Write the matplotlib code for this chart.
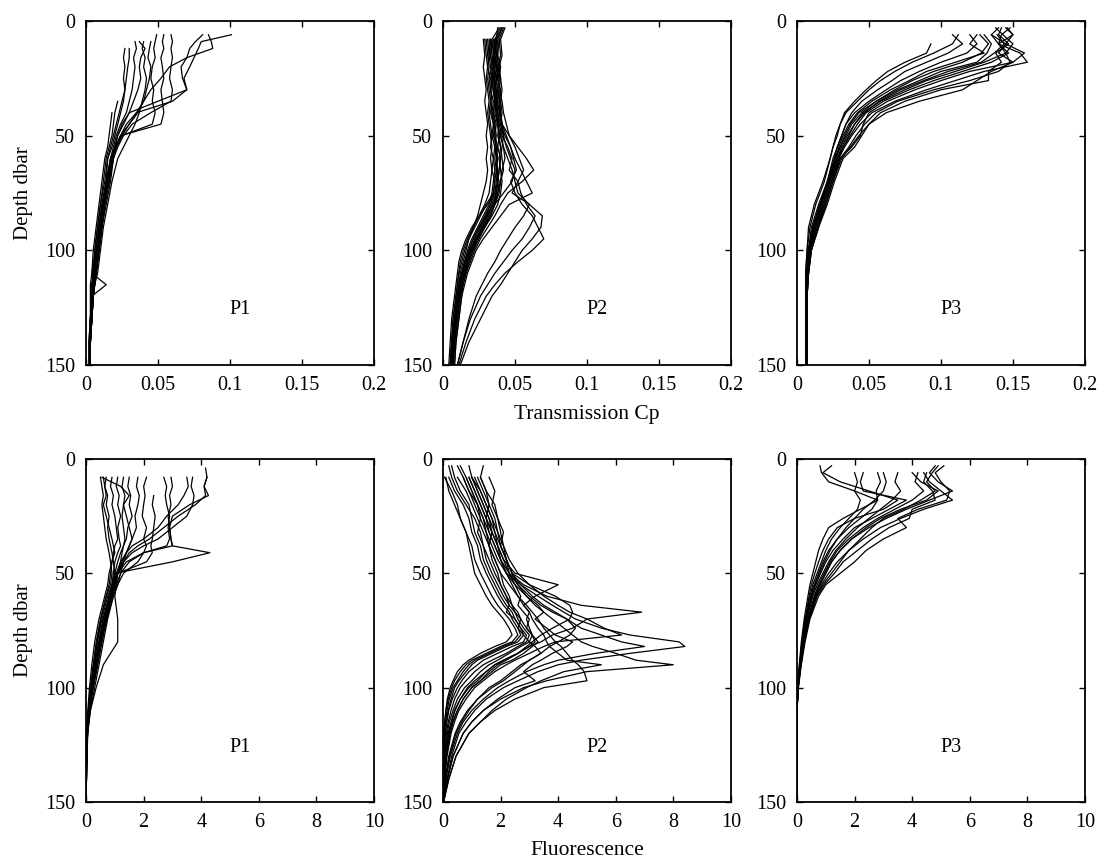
import numpy as np
import matplotlib
matplotlib.use("Agg")
import matplotlib.pyplot as plt

N = np.nan

# ---- transmission Cp, station P1 ----
DEPTH_CP1 = [6, 9, 12, 16, 20, 25, 30, 35, 40, 45, 50, 55, 60, 70, 80, 90, 100, 110, 115, 120, 130, 140, 150]
CP_P1 = [
    [N, N, 0.027, 0.026, 0.027, 0.026, 0.027, 0.026, 0.024, 0.022, 0.020, 0.018, 0.015, 0.013, 0.010, 0.008, 0.006, 0.005, 0.004, 0.004, 0.003, 0.003, 0.003],
    [N, 0.034, 0.035, 0.033, 0.034, 0.033, 0.032, 0.030, 0.028, 0.024, 0.021, 0.019, 0.017, 0.014, 0.011, 0.009, 0.007, 0.006, 0.005, 0.004, 0.003, 0.003, 0.003],
    [N, 0.037, 0.041, 0.038, 0.037, 0.038, 0.036, 0.033, 0.030, 0.026, 0.022, 0.020, 0.017, 0.015, 0.012, 0.010, 0.008, 0.006, 0.005, 0.005, 0.004, 0.003, 0.003],
    [N, 0.045, 0.044, 0.043, 0.045, 0.044, 0.042, 0.040, 0.036, 0.030, 0.024, 0.021, 0.018, 0.016, 0.013, 0.011, 0.009, 0.007, 0.006, 0.005, 0.004, 0.003, 0.003],
    [0.049, 0.048, 0.047, 0.048, 0.046, 0.045, 0.047, 0.046, 0.048, 0.046, 0.025, 0.021, 0.019, 0.017, 0.014, 0.011, 0.009, 0.007, 0.006, 0.005, 0.004, 0.003, 0.003],
    [0.054, 0.053, 0.054, 0.052, 0.053, 0.054, 0.052, 0.053, 0.054, 0.052, 0.024, 0.020, 0.018, 0.015, 0.012, 0.010, 0.008, 0.006, 0.005, 0.005, 0.004, 0.003, 0.003],
    [0.059, 0.060, 0.059, 0.060, 0.059, 0.058, 0.060, 0.059, 0.045, 0.032, 0.026, 0.022, 0.019, 0.016, 0.013, 0.011, 0.009, 0.007, 0.006, 0.005, 0.004, 0.003, 0.003],
    [0.081, 0.076, 0.072, 0.070, 0.066, 0.067, 0.070, 0.060, 0.035, 0.028, 0.024, 0.021, 0.018, 0.015, 0.012, 0.010, 0.008, 0.006, 0.005, 0.005, 0.004, 0.003, 0.003],
    [0.085, 0.087, 0.088, 0.070, 0.058, 0.052, 0.045, 0.040, 0.035, 0.030, 0.025, 0.021, 0.019, 0.016, 0.013, 0.011, 0.009, 0.007, 0.006, 0.005, 0.004, 0.003, 0.003],
    [0.101, 0.080, 0.078, 0.075, 0.072, 0.068, 0.070, 0.050, 0.030, 0.025, 0.022, 0.020, 0.017, 0.014, 0.011, 0.009, 0.007, 0.005, 0.005, 0.004, 0.003, 0.002, 0.002],
    [N, N, 0.030, 0.030, 0.029, 0.028, 0.027, 0.025, 0.023, 0.021, 0.019, 0.017, 0.015, 0.014, 0.012, 0.009, 0.007, 0.004, 0.014, 0.004, 0.003, 0.003, 0.003],
    [N, N, N, N, N, N, N, 0.022, 0.020, 0.019, 0.018, 0.016, 0.014, 0.012, 0.010, 0.008, 0.006, 0.005, 0.004, 0.004, 0.003, 0.003, 0.003],
    [N, N, N, N, N, N, N, N, 0.018, 0.017, 0.016, 0.015, 0.013, 0.011, 0.009, 0.007, 0.005, 0.004, 0.003, 0.003, 0.003, 0.002, 0.002],
    [N, 0.040, 0.039, 0.041, 0.040, 0.042, 0.041, 0.039, 0.037, 0.034, 0.030, 0.026, 0.022, 0.018, 0.015, 0.012, 0.010, 0.008, 0.006, 0.005, 0.004, 0.003, 0.003],
]

# ---- transmission Cp, station P2 ----
DEPTH_CP2 = [3, 8, 15, 20, 25, 30, 35, 40, 45, 50, 55, 60, 65, 70, 75, 80, 85, 90, 95, 100, 105, 110, 115, 120, 130, 140, 150]
CP_P2 = [
    [N, 0.028, 0.029, 0.028, 0.029, 0.030, 0.029, 0.030, 0.031, 0.030, 0.031, 0.030, 0.031, 0.030, 0.028, 0.026, 0.024, 0.021, 0.018, 0.016, 0.014, 0.012, 0.011, 0.010, 0.008, 0.007, 0.006],
    [0.040, 0.036, 0.035, 0.036, 0.034, 0.035, 0.036, 0.035, 0.036, 0.037, 0.036, 0.038, 0.037, 0.036, 0.035, 0.033, 0.030, 0.026, 0.022, 0.019, 0.016, 0.014, 0.012, 0.011, 0.009, 0.007, 0.006],
    [0.043, 0.040, 0.041, 0.039, 0.040, 0.041, 0.040, 0.041, 0.040, 0.042, 0.041, 0.040, 0.039, 0.038, 0.037, 0.034, 0.031, 0.027, 0.023, 0.020, 0.017, 0.015, 0.013, 0.012, 0.010, 0.008, 0.007],
    [N, 0.032, 0.033, 0.034, 0.032, 0.033, 0.034, 0.033, 0.035, 0.034, 0.036, 0.035, 0.036, 0.035, 0.034, 0.032, 0.028, 0.024, 0.020, 0.017, 0.015, 0.013, 0.011, 0.010, 0.008, 0.007, 0.005],
    [0.038, 0.037, 0.038, 0.037, 0.039, 0.038, 0.039, 0.040, 0.041, 0.042, 0.044, 0.047, 0.050, 0.048, 0.042, 0.036, 0.033, 0.029, 0.025, 0.021, 0.018, 0.016, 0.014, 0.012, 0.010, 0.008, 0.007],
    [0.041, 0.038, 0.037, 0.039, 0.038, 0.040, 0.039, 0.040, 0.041, 0.046, 0.052, 0.058, 0.063, 0.055, 0.045, 0.040, 0.036, 0.031, 0.026, 0.022, 0.019, 0.016, 0.014, 0.013, 0.011, 0.009, 0.008],
    [N, 0.035, 0.036, 0.035, 0.037, 0.036, 0.037, 0.038, 0.040, 0.043, 0.047, 0.050, 0.054, 0.058, 0.062, 0.046, 0.040, 0.034, 0.028, 0.023, 0.020, 0.017, 0.015, 0.013, 0.011, 0.009, 0.008],
    [N, 0.033, 0.034, 0.036, 0.035, 0.036, 0.037, 0.036, 0.038, 0.040, 0.042, 0.045, 0.048, 0.050, 0.052, 0.060, 0.069, 0.068, 0.062, 0.055, 0.050, 0.045, 0.040, 0.034, 0.026, 0.018, 0.012],
    [N, 0.036, 0.035, 0.037, 0.036, 0.037, 0.038, 0.039, 0.041, 0.044, 0.047, 0.049, 0.051, 0.047, 0.050, 0.055, 0.062, 0.066, 0.070, 0.062, 0.052, 0.043, 0.036, 0.030, 0.022, 0.016, 0.011],
    [N, 0.034, 0.035, 0.034, 0.036, 0.035, 0.036, 0.037, 0.039, 0.041, 0.045, 0.048, 0.046, 0.052, 0.054, 0.058, 0.064, 0.060, 0.055, 0.048, 0.042, 0.036, 0.031, 0.026, 0.019, 0.014, 0.010],
    [0.042, 0.039, 0.038, 0.040, 0.039, 0.038, 0.040, 0.039, 0.041, 0.040, 0.042, 0.043, 0.041, 0.040, 0.039, 0.036, 0.032, 0.028, 0.024, 0.021, 0.018, 0.015, 0.013, 0.011, 0.009, 0.007, 0.006],
    [N, 0.030, 0.031, 0.032, 0.031, 0.032, 0.033, 0.032, 0.033, 0.034, 0.033, 0.035, 0.034, 0.036, 0.035, 0.030, 0.026, 0.022, 0.018, 0.015, 0.013, 0.011, 0.010, 0.009, 0.007, 0.006, 0.005],
    [N, 0.037, 0.036, 0.038, 0.037, 0.038, 0.037, 0.038, 0.039, 0.038, 0.040, 0.039, 0.040, 0.041, 0.040, 0.038, 0.034, 0.029, 0.024, 0.020, 0.017, 0.015, 0.013, 0.012, 0.010, 0.008, 0.007],
    [N, 0.039, 0.040, 0.038, 0.040, 0.039, 0.041, 0.042, 0.044, 0.046, 0.050, 0.053, 0.056, 0.052, 0.048, 0.060, 0.056, 0.050, 0.045, 0.040, 0.036, 0.031, 0.027, 0.023, 0.018, 0.014, 0.010],
    [0.039, 0.034, 0.033, 0.035, 0.034, 0.035, 0.036, 0.035, 0.037, 0.036, 0.038, 0.037, 0.038, 0.037, 0.036, 0.033, 0.029, 0.025, 0.021, 0.018, 0.016, 0.013, 0.012, 0.010, 0.009, 0.007, 0.006],
    [N, 0.031, 0.032, 0.031, 0.033, 0.034, 0.033, 0.034, 0.035, 0.036, 0.037, 0.036, 0.037, 0.038, 0.036, 0.031, 0.025, 0.020, 0.016, 0.013, 0.011, 0.010, 0.009, 0.008, 0.006, 0.005, 0.004],
    [N, 0.036, 0.037, 0.036, 0.035, 0.037, 0.036, 0.037, 0.038, 0.039, 0.038, 0.040, 0.039, 0.038, 0.037, 0.035, 0.031, 0.027, 0.023, 0.019, 0.016, 0.014, 0.012, 0.011, 0.009, 0.007, 0.006],
    [N, 0.029, 0.030, 0.031, 0.030, 0.031, 0.032, 0.031, 0.032, 0.033, 0.034, 0.033, 0.034, 0.033, 0.032, 0.029, 0.025, 0.021, 0.017, 0.014, 0.012, 0.011, 0.010, 0.009, 0.007, 0.006, 0.005],
    [0.041, 0.037, 0.036, 0.037, 0.038, 0.036, 0.038, 0.037, 0.038, 0.039, 0.040, 0.041, 0.042, 0.040, 0.038, 0.036, 0.033, 0.028, 0.023, 0.019, 0.016, 0.014, 0.012, 0.011, 0.009, 0.008, 0.006],
    [N, 0.033, 0.032, 0.033, 0.034, 0.033, 0.035, 0.034, 0.036, 0.035, 0.037, 0.038, 0.037, 0.039, 0.038, 0.035, 0.030, 0.025, 0.021, 0.018, 0.015, 0.013, 0.011, 0.010, 0.008, 0.006, 0.005],
]

# ---- transmission Cp, station P3 ----
DEPTH_CP3 = [3, 6, 10, 14, 18, 22, 26, 30, 35, 40, 45, 50, 55, 60, 70, 80, 90, 100, 110, 120, 150]
CP_P3 = [
    [N, N, 0.093, 0.090, 0.075, 0.063, 0.055, 0.048, 0.040, 0.033, 0.030, 0.027, 0.025, 0.023, 0.019, 0.013, 0.009, 0.007, 0.006, 0.006, 0.006],
    [N, 0.108, 0.115, 0.105, 0.090, 0.075, 0.066, 0.056, 0.045, 0.038, 0.034, 0.031, 0.028, 0.026, 0.021, 0.016, 0.011, 0.008, 0.007, 0.007, 0.007],
    [N, 0.125, 0.120, 0.130, 0.110, 0.090, 0.078, 0.065, 0.052, 0.042, 0.036, 0.032, 0.029, 0.027, 0.022, 0.017, 0.012, 0.008, 0.007, 0.007, 0.007],
    [0.140, 0.135, 0.140, 0.145, 0.130, 0.110, 0.090, 0.075, 0.058, 0.046, 0.040, 0.035, 0.031, 0.028, 0.023, 0.018, 0.013, 0.009, 0.007, 0.007, 0.007],
    [0.145, 0.150, 0.140, 0.155, 0.160, 0.130, 0.110, 0.090, 0.068, 0.052, 0.044, 0.038, 0.033, 0.029, 0.024, 0.019, 0.014, 0.009, 0.008, 0.007, 0.007],
    [N, 0.135, 0.145, 0.140, 0.150, 0.135, 0.125, 0.115, 0.085, 0.062, 0.050, 0.043, 0.037, 0.031, 0.025, 0.020, 0.015, 0.010, 0.008, 0.007, 0.007],
    [N, 0.130, 0.135, 0.132, 0.125, 0.100, 0.085, 0.070, 0.055, 0.045, 0.038, 0.034, 0.030, 0.027, 0.022, 0.016, 0.011, 0.008, 0.007, 0.006, 0.006],
    [0.142, 0.140, 0.147, 0.138, 0.142, 0.133, 0.133, 0.100, 0.075, 0.058, 0.050, 0.045, 0.040, 0.032, 0.026, 0.021, 0.015, 0.010, 0.008, 0.007, 0.007],
    [N, 0.120, 0.125, 0.118, 0.100, 0.085, 0.072, 0.062, 0.050, 0.040, 0.034, 0.031, 0.028, 0.025, 0.021, 0.015, 0.010, 0.008, 0.007, 0.006, 0.006],
    [0.146, 0.150, 0.145, 0.158, 0.150, 0.120, 0.100, 0.082, 0.063, 0.050, 0.046, 0.044, 0.038, 0.030, 0.024, 0.019, 0.013, 0.009, 0.007, 0.007, 0.007],
    [N, 0.112, 0.108, 0.095, 0.080, 0.068, 0.058, 0.050, 0.042, 0.034, 0.030, 0.028, 0.025, 0.023, 0.018, 0.012, 0.008, 0.007, 0.006, 0.006, 0.006],
    [0.138, 0.143, 0.150, 0.145, 0.148, 0.140, 0.120, 0.095, 0.070, 0.055, 0.047, 0.041, 0.036, 0.030, 0.025, 0.020, 0.014, 0.010, 0.008, 0.007, 0.007],
    [N, 0.127, 0.133, 0.128, 0.115, 0.095, 0.080, 0.068, 0.055, 0.043, 0.037, 0.033, 0.030, 0.026, 0.022, 0.016, 0.011, 0.008, 0.007, 0.006, 0.006],
    [0.148, 0.142, 0.140, 0.147, 0.135, 0.115, 0.095, 0.078, 0.060, 0.048, 0.042, 0.037, 0.032, 0.029, 0.023, 0.018, 0.012, 0.009, 0.007, 0.007, 0.007],
    [N, 0.139, 0.144, 0.137, 0.128, 0.105, 0.088, 0.072, 0.057, 0.047, 0.040, 0.036, 0.032, 0.028, 0.022, 0.017, 0.012, 0.008, 0.007, 0.006, 0.006],
]

# ---- fluorescence, station P1 ----
DEPTH_FL1 = [4, 8, 12, 16, 20, 25, 30, 35, 38, 41, 45, 50, 55, 60, 70, 80, 90, 100, 110, 120, 135, 150]
FL_P1 = [
    [N, 0.50, 0.55, 0.60, 0.55, 0.60, 0.65, 0.70, 0.75, 0.80, 0.85, 0.90, 0.85, 0.70, 0.50, 0.35, 0.25, 0.15, 0.08, 0.03, 0.01, 0.0],
    [N, 0.70, 0.65, 0.75, 0.70, 0.80, 0.75, 0.80, 0.85, 0.90, 0.95, 1.00, 0.90, 0.75, 0.55, 0.40, 0.28, 0.18, 0.10, 0.04, 0.01, 0.0],
    [N, 1.10, 1.05, 1.15, 1.10, 1.20, 1.10, 1.15, 1.20, 1.10, 1.00, 0.95, 0.90, 0.80, 0.60, 0.45, 0.32, 0.20, 0.10, 0.04, 0.01, 0.0],
    [N, 1.50, 1.45, 1.55, 1.50, 1.60, 1.45, 1.40, 1.30, 1.20, 1.10, 1.00, 0.95, 0.85, 0.65, 0.50, 0.35, 0.22, 0.12, 0.05, 0.02, 0.0],
    [N, 1.80, 1.75, 1.85, 1.80, 1.70, 1.75, 1.60, 1.50, 1.40, 1.25, 1.10, 1.00, 0.90, 0.70, 0.50, 0.35, 0.22, 0.12, 0.05, 0.02, 0.0],
    [N, N, N, 2.35, 2.30, 2.40, 2.35, 2.30, 2.25, 2.30, 2.10, 1.10, 0.95, 0.85, 0.65, 0.48, 0.34, 0.20, 0.10, 0.04, 0.01, 0.0],
    [N, 2.70, 2.80, 2.75, 2.80, 2.90, 2.85, 2.90, 2.80, 2.00, 1.50, 1.20, 1.05, 0.90, 0.70, 0.55, 0.40, 0.25, 0.12, 0.05, 0.02, 0.0],
    [N, 2.95, 3.00, 2.90, 2.95, 2.85, 2.90, 2.95, 3.00, 4.30, 3.00, 1.00, 0.95, 0.85, 0.70, 0.50, 0.35, 0.22, 0.10, 0.04, 0.01, 0.0],
    [N, 3.50, 3.55, 3.40, 3.20, 2.80, 2.50, 2.00, 1.60, 1.40, 1.20, 1.05, 0.95, 0.85, 0.65, 0.50, 0.35, 0.20, 0.10, 0.04, 0.01, 0.0],
    [4.15, 4.20, 4.10, 4.15, 3.80, 3.20, 2.70, 2.20, 1.80, 1.50, 1.30, 1.10, 1.00, 0.90, 0.70, 0.50, 0.35, 0.22, 0.12, 0.05, 0.02, 0.0],
    [N, 4.20, 4.10, 4.25, 3.60, 3.00, 2.90, 2.95, 3.00, 2.00, 1.40, 1.10, 1.00, 0.85, 0.60, 0.45, 0.30, 0.18, 0.09, 0.03, 0.01, 0.0],
    [N, 3.70, 3.65, 3.75, 3.70, 3.50, 3.00, 2.50, 2.00, 1.60, 1.30, 1.10, 0.95, 0.80, 0.60, 0.45, 0.30, 0.18, 0.09, 0.03, 0.01, 0.0],
    [N, 0.55, 1.20, 1.50, 1.30, 1.25, 1.30, 1.35, 1.30, 1.25, 1.20, 1.10, 1.05, 1.00, 1.10, 1.10, 0.60, 0.35, 0.15, 0.05, 0.02, 0.0],
    [N, 1.30, 1.25, 1.35, 1.30, 1.40, 1.50, 1.60, 1.50, 1.40, 1.30, 1.20, 1.10, 0.95, 0.75, 0.60, 0.45, 0.30, 0.15, 0.06, 0.02, 0.0],
    [N, 2.10, 2.00, 2.05, 2.00, 1.95, 2.10, 2.00, 2.10, 2.00, 1.80, 1.30, 1.10, 0.95, 0.72, 0.55, 0.40, 0.25, 0.12, 0.05, 0.02, 0.0],
    [N, 0.60, 0.65, 0.70, 0.60, 0.70, 0.80, 0.90, 0.95, 1.00, 0.90, 0.80, 0.75, 0.65, 0.45, 0.30, 0.20, 0.12, 0.06, 0.02, 0.0, 0.0],
    [N, 0.90, 0.85, 0.95, 0.90, 1.00, 1.05, 1.10, 1.00, 0.95, 0.90, 0.85, 0.80, 0.70, 0.52, 0.38, 0.26, 0.16, 0.08, 0.03, 0.01, 0.0],
]

# ---- fluorescence, station P2 ----
DEPTH_FL2 = [3, 8, 14, 20, 26, 32, 38, 44, 50, 55, 60, 64, 67, 70, 74, 77, 80, 82, 85, 88, 90, 93, 97, 100, 105, 110, 115, 120, 130, 140, 150]
FL_P2 = [
    [N, 0.05, 0.3, 0.5, 0.6, 0.8, 0.9, 1.0, 1.1, 1.3, 1.5, 1.7, 1.9, 2.1, 2.3, 2.4, 2.2, 1.8, 1.3, 0.9, 0.7, 0.5, 0.35, 0.25, 0.15, 0.1, 0.06, 0.04, 0.02, 0.01, 0.0],
    [0.3, 0.4, 0.6, 0.9, 1.0, 1.1, 1.3, 1.4, 1.6, 1.8, 2.0, 2.2, 2.4, 2.5, 2.7, 2.8, 2.6, 2.2, 1.7, 1.2, 1.0, 0.8, 0.55, 0.4, 0.28, 0.18, 0.12, 0.08, 0.04, 0.02, 0.0],
    [0.6, 0.8, 1.0, 1.2, 1.3, 1.2, 1.4, 1.5, 1.7, 1.9, 2.1, 2.3, 2.5, 2.6, 2.8, 3.0, 2.9, 2.6, 2.2, 1.7, 1.4, 1.1, 0.8, 0.6, 0.4, 0.28, 0.18, 0.12, 0.06, 0.03, 0.0],
    [1.4, 1.3, 1.5, 1.6, 1.5, 1.7, 1.6, 1.8, 2.0, 2.1, 2.3, 2.4, 2.6, 2.7, 2.9, 3.1, 3.2, 3.0, 2.6, 2.1, 1.8, 1.5, 1.1, 0.85, 0.6, 0.4, 0.28, 0.18, 0.09, 0.04, 0.01],
    [N, 1.0, 1.2, 1.4, 1.6, 1.8, 1.9, 2.1, 2.5, 4.0, 3.2, 2.8, 3.0, 2.9, 3.0, 3.1, 3.0, 2.7, 2.3, 1.9, 1.6, 1.3, 1.0, 0.75, 0.5, 0.35, 0.22, 0.15, 0.07, 0.03, 0.0],
    [N, 0.9, 1.1, 1.3, 1.5, 1.6, 1.8, 2.0, 2.3, 2.8, 3.6, 4.8, 6.9, 5.0, 4.5, 3.8, 3.4, 3.0, 2.6, 2.1, 1.8, 1.5, 1.2, 0.9, 0.6, 0.42, 0.3, 0.2, 0.1, 0.05, 0.0],
    [N, 0.8, 1.0, 1.2, 1.4, 1.5, 1.7, 1.9, 2.2, 2.7, 3.3, 3.8, 4.2, 4.6, 5.5, 6.5, 8.2, 8.4, 6.5, 4.8, 4.0, 3.3, 2.6, 2.1, 1.5, 1.1, 0.8, 0.55, 0.3, 0.15, 0.02],
    [N, 1.1, 1.3, 1.5, 1.7, 1.9, 2.0, 2.2, 2.4, 2.7, 3.1, 3.5, 3.9, 4.3, 4.8, 5.5, 6.2, 7.0, 5.3, 4.0, 3.5, 2.9, 2.3, 1.9, 1.4, 1.0, 0.7, 0.5, 0.25, 0.1, 0.0],
    [N, 0.7, 0.9, 1.2, 1.4, 1.6, 1.8, 2.0, 2.2, 2.5, 2.9, 3.2, 3.5, 3.8, 4.2, 4.5, 4.8, 5.2, 6.0, 6.7, 8.0, 5.0, 3.6, 2.8, 2.0, 1.4, 1.0, 0.7, 0.35, 0.15, 0.02],
    [N, 0.5, 0.8, 1.0, 1.2, 1.4, 1.6, 1.8, 2.0, 2.3, 2.6, 2.9, 3.1, 3.3, 3.5, 3.7, 3.9, 4.1, 4.3, 4.5, 4.7, 4.9, 5.0, 3.5, 2.5, 1.8, 1.3, 0.9, 0.45, 0.2, 0.02],
    [N, 1.2, 1.4, 1.6, 1.8, 1.9, 2.1, 2.3, 2.6, 3.0, 3.5, 4.0, 4.4, 5.0, 5.6, 6.2, 3.9, 3.5, 3.0, 2.5, 2.2, 1.8, 1.4, 1.1, 0.8, 0.55, 0.4, 0.28, 0.14, 0.06, 0.0],
    [0.9, 1.0, 1.2, 1.4, 1.6, 1.7, 1.9, 2.1, 2.3, 2.6, 3.0, 3.4, 3.8, 4.3, 4.6, 4.4, 4.0, 3.7, 3.4, 3.0, 2.8, 2.5, 2.1, 1.7, 1.2, 0.85, 0.6, 0.42, 0.2, 0.08, 0.0],
    [N, 0.2, 0.4, 0.7, 0.9, 1.0, 1.2, 1.3, 1.5, 1.7, 1.9, 2.1, 2.3, 2.4, 2.6, 2.7, 2.5, 2.1, 1.6, 1.1, 0.9, 0.7, 0.5, 0.35, 0.22, 0.14, 0.09, 0.05, 0.02, 0.0, 0.0],
    [0.5, 0.7, 0.9, 1.1, 1.3, 1.5, 1.6, 1.7, 1.9, 2.0, 2.2, 2.4, 2.5, 2.7, 2.6, 2.8, 3.0, 3.2, 3.4, 3.0, 2.7, 2.4, 2.0, 1.6, 1.2, 0.9, 0.65, 0.45, 0.22, 0.1, 0.0],
    [N, 1.3, 1.5, 1.8, 1.9, 2.0, 2.1, 2.2, 2.4, 2.6, 2.9, 3.3, 3.5, 3.2, 3.6, 3.9, 4.5, 4.3, 3.8, 3.4, 3.1, 2.8, 3.2, 2.5, 1.9, 1.4, 1.0, 0.7, 0.35, 0.15, 0.0],
    [N, 0.1, 0.2, 0.4, 0.6, 0.8, 1.0, 1.1, 1.3, 1.5, 1.7, 1.9, 2.1, 2.3, 2.5, 2.6, 2.4, 2.0, 1.5, 1.0, 0.8, 0.6, 0.4, 0.3, 0.18, 0.1, 0.06, 0.03, 0.01, 0.0, 0.0],
    [N, 1.0, 1.3, 1.5, 1.7, 1.8, 2.0, 2.2, 2.4, 3.0, 3.9, 4.4, 4.5, 4.4, 3.8, 3.4, 3.1, 2.9, 2.6, 2.2, 1.9, 1.6, 1.3, 1.0, 0.7, 0.5, 0.35, 0.25, 0.12, 0.05, 0.0],
    [N, 0.9, 1.1, 1.3, 1.5, 1.7, 1.9, 2.0, 2.2, 2.4, 2.6, 2.8, 3.0, 3.1, 3.3, 3.5, 3.6, 3.7, 4.0, 4.3, 5.5, 4.2, 3.4, 2.9, 2.2, 1.7, 1.3, 0.9, 0.45, 0.2, 0.02],
    [N, 1.6, 1.8, 1.7, 1.9, 2.1, 2.0, 2.2, 2.3, 2.5, 2.7, 2.6, 2.8, 3.0, 2.9, 3.1, 3.3, 3.1, 2.8, 2.4, 2.0, 1.7, 1.3, 1.0, 0.7, 0.5, 0.33, 0.22, 0.1, 0.04, 0.0],
    [0.2, 0.3, 0.5, 0.8, 1.1, 1.3, 1.4, 1.6, 1.8, 2.0, 2.2, 2.3, 2.2, 2.5, 2.7, 2.9, 2.8, 2.4, 1.9, 1.4, 1.2, 0.9, 0.65, 0.5, 0.32, 0.2, 0.13, 0.08, 0.03, 0.01, 0.0],
]

# ---- fluorescence, station P3 ----
DEPTH_FL3 = [3, 6, 10, 14, 18, 22, 26, 30, 35, 40, 45, 50, 55, 60, 70, 80, 90, 100, 110, 150]
FL_P3 = [
    [0.8, 0.85, 1.1, 2.0, 2.8, 2.2, 1.6, 1.1, 0.9, 0.75, 0.65, 0.55, 0.45, 0.38, 0.25, 0.15, 0.08, 0.02, 0.0, 0.0],
    [1.2, 0.9, 1.5, 2.5, 3.5, 3.0, 2.0, 1.4, 1.1, 0.9, 0.75, 0.62, 0.5, 0.42, 0.28, 0.17, 0.09, 0.02, 0.0, 0.0],
    [N, 2.0, 2.1, 2.0, 2.2, 2.1, 1.8, 1.5, 1.2, 1.0, 0.85, 0.7, 0.55, 0.45, 0.3, 0.18, 0.1, 0.03, 0.0, 0.0],
    [N, 2.8, 2.9, 2.75, 2.8, 2.6, 2.2, 1.8, 1.4, 1.15, 0.95, 0.78, 0.62, 0.5, 0.32, 0.2, 0.1, 0.03, 0.0, 0.0],
    [N, 3.5, 3.4, 3.6, 3.3, 2.9, 2.5, 2.1, 1.7, 1.35, 1.1, 0.9, 0.7, 0.55, 0.35, 0.22, 0.12, 0.03, 0.0, 0.0],
    [N, 4.2, 4.1, 4.4, 4.0, 3.4, 2.8, 2.3, 1.8, 1.4, 1.15, 0.95, 0.75, 0.6, 0.38, 0.23, 0.12, 0.04, 0.0, 0.0],
    [4.8, 4.6, 4.9, 5.4, 4.6, 3.8, 3.1, 2.5, 1.9, 1.5, 1.2, 1.0, 0.8, 0.62, 0.4, 0.25, 0.13, 0.04, 0.0, 0.0],
    [5.1, 4.8, 5.0, 5.3, 5.2, 4.2, 3.5, 3.8, 3.0, 2.4, 2.0, 1.5, 1.0, 0.75, 0.45, 0.28, 0.15, 0.05, 0.0, 0.0],
    [N, 4.5, 4.4, 4.7, 4.8, 4.0, 3.9, 3.2, 2.6, 2.1, 1.6, 1.3, 0.95, 0.7, 0.42, 0.26, 0.14, 0.04, 0.0, 0.0],
    [N, 4.0, 4.3, 4.9, 4.5, 3.6, 2.9, 2.4, 1.9, 1.5, 1.2, 1.0, 0.8, 0.63, 0.4, 0.24, 0.12, 0.04, 0.0, 0.0],
    [N, 4.4, 4.6, 5.0, 5.4, 4.4, 3.6, 2.9, 2.3, 1.8, 1.4, 1.1, 0.85, 0.68, 0.42, 0.25, 0.13, 0.04, 0.0, 0.0],
    [N, 3.0, 3.1, 3.0, 2.7, 2.3, 2.0, 1.7, 1.4, 1.1, 0.9, 0.75, 0.6, 0.48, 0.3, 0.18, 0.09, 0.02, 0.0, 0.0],
    [4.9, 4.7, 4.5, 4.8, 4.3, 3.7, 3.0, 2.6, 2.2, 1.8, 1.5, 1.2, 0.9, 0.66, 0.4, 0.24, 0.12, 0.04, 0.0, 0.0],
    [N, 2.3, 2.2, 2.3, 3.8, 3.2, 2.6, 2.0, 1.6, 1.25, 1.0, 0.82, 0.65, 0.52, 0.33, 0.2, 0.1, 0.03, 0.0, 0.0],
]

STATIONS = ["P1", "P2", "P3"]
CP_TICKS = [0, 0.05, 0.1, 0.15, 0.2]
CP_TICKLABELS = ["0", "0.05", "0.1", "0.15", "0.2"]
FL_TICKS = [0, 2, 4, 6, 8, 10]
DEPTH_TICKS = [0, 50, 100, 150]

plt.rcParams.update({"font.family": "Liberation Serif", "font.size": 14.5})

fig = plt.figure(figsize=(10.99, 8.59), dpi=100)
lefts = [0.0783, 0.4031, 0.7252]
W = 0.262
rows = [
    (0.5751, 0.4005, [(DEPTH_CP1, CP_P1), (DEPTH_CP2, CP_P2), (DEPTH_CP3, CP_P3)],
     CP_TICKS, CP_TICKLABELS, (0, 0.2), "Transmission Cp"),
    (0.0664, 0.3993, [(DEPTH_FL1, FL_P1), (DEPTH_FL2, FL_P2), (DEPTH_FL3, FL_P3)],
     FL_TICKS, [str(t) for t in FL_TICKS], (0, 10), "Fluorescence"),
]

for bottom, height, panels, ticks, ticklabels, xlim, xlabel in rows:
    for i, (depth, profiles) in enumerate(panels):
        ax = fig.add_axes([lefts[i], bottom, W, height])
        d = np.asarray(depth, dtype=float)
        for prof in profiles:
            ax.plot(np.asarray(prof, dtype=float), d, color="black", lw=0.9)
        ax.set_xlim(*xlim)
        ax.set_ylim(150, 0)
        ax.set_xticks(ticks)
        ax.set_xticklabels(ticklabels)
        ax.set_yticks(DEPTH_TICKS)
        ax.tick_params(direction="in", top=True, right=True, length=4, width=1.0, pad=8)
        for sp in ax.spines.values():
            sp.set_linewidth(1.3)
        ax.text(0.535, 0.16, STATIONS[i], transform=ax.transAxes,
                ha="center", va="center")
        if i == 0:
            ax.set_ylabel("Depth dbar", fontsize=15)
            ax.yaxis.set_label_coords(-0.184, 0.5)
        if i == 1:
            ax.set_xlabel(xlabel, fontsize=15.5)
            ax.xaxis.set_label_coords(0.5, -0.115)

fig.savefig("out.png", dpi=100)
